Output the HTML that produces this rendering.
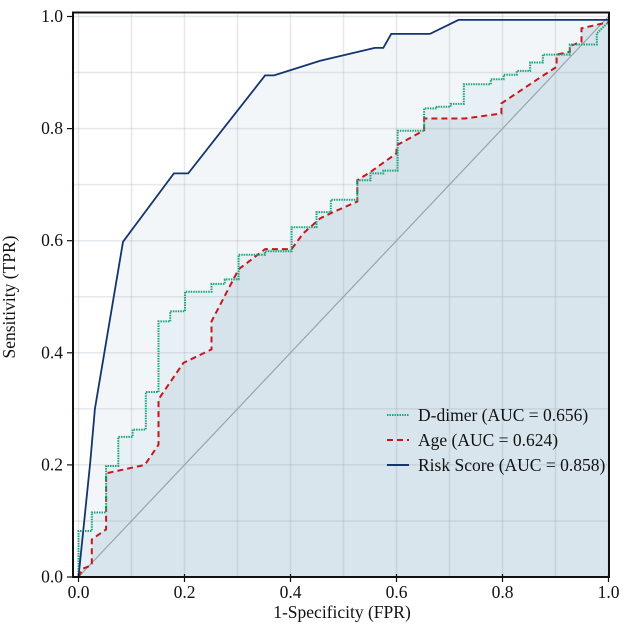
<!DOCTYPE html>
<html><head><meta charset="utf-8"><style>
body{margin:0;background:#fff}
svg text{font-family:"Liberation Serif",serif;fill:#111}
</style></head><body>
<svg id="c" width="624" height="623" xmlns="http://www.w3.org/2000/svg"></svg>
<script>
const riskX=[0,0.022,0.031,0.084,0.18,0.207,0.352,0.369,0.456,0.559,0.575,0.59,0.663,0.717,1];
const riskY=[0,0.204,0.30,0.598,0.72,0.72,0.895,0.895,0.921,0.944,0.944,0.969,0.969,0.994,0.994];
const dimX=[0,0,0.025,0.025,0.052,0.052,0.075,0.075,0.102,0.102,0.127,0.127,0.151,0.151,0.173,0.173,0.201,0.201,0.251,0.251,0.276,0.276,0.302,0.302,0.352,0.352,0.402,0.402,0.449,0.449,0.476,0.476,0.526,0.526,0.551,0.551,0.575,0.575,0.602,0.602,0.652,0.652,0.676,0.676,0.702,0.702,0.727,0.727,0.778,0.778,0.802,0.802,0.827,0.827,0.852,0.852,0.876,0.876,0.927,0.927,0.978,0.978,1];
const dimY=[0,0.082,0.082,0.115,0.115,0.198,0.198,0.25,0.25,0.263,0.263,0.33,0.33,0.456,0.456,0.474,0.474,0.509,0.509,0.523,0.523,0.531,0.531,0.575,0.575,0.581,0.581,0.624,0.624,0.651,0.651,0.673,0.673,0.708,0.708,0.72,0.72,0.725,0.725,0.796,0.796,0.836,0.836,0.839,0.839,0.844,0.844,0.879,0.879,0.888,0.888,0.896,0.896,0.903,0.903,0.918,0.918,0.932,0.932,0.950,0.950,0.97,0.99];
const ageX=[0,0.008,0.025,0.025,0.052,0.052,0.125,0.151,0.151,0.198,0.251,0.251,0.302,0.352,0.402,0.424,0.456,0.476,0.526,0.526,0.55,0.6,0.6,0.652,0.652,0.729,0.798,0.798,0.877,0.902,0.902,0.927,0.927,0.949,0.949,1];
const ageY=[0,0.015,0.021,0.067,0.085,0.185,0.2,0.236,0.317,0.382,0.406,0.456,0.549,0.585,0.585,0.613,0.64,0.649,0.67,0.708,0.722,0.756,0.77,0.797,0.818,0.818,0.827,0.845,0.895,0.910,0.932,0.937,0.947,0.955,0.979,0.99];
const ticks=[0,0.2,0.4,0.6,0.8,1.0];
const tickLabels=["0.0","0.2","0.4","0.6","0.8","1.0"];
const legendLabels=["D-dimer (AUC = 0.656)","Age (AUC = 0.624)","Risk Score (AUC = 0.858)"];
const X0=78.5,X1=608.5,Y0=577,Y1=16.5;
const sx=v=>X0+v*(X1-X0), sy=v=>Y0-v*(Y0-Y1);
const svg=document.getElementById('c');const NS='http://www.w3.org/2000/svg';
function mk(t,a,p){const e=document.createElementNS(NS,t);for(const k in a)e.setAttribute(k,a[k]);(p||svg).appendChild(e);return e;}
function pts(xs,ys){return xs.map((x,i)=>sx(x).toFixed(1)+','+sy(ys[i]).toFixed(1)).join(' ');}
function area(xs,ys){return pts(xs,ys)+' '+sx(1)+','+sy(0)+' '+sx(0)+','+sy(0);}
let e;
e=mk('rect',{x:73,y:12.5,width:536,height:564.5,fill:'#fff'});

e=mk('polygon',{points:area(riskX,riskY),fill:'#f3f6f9'});

e=mk('polygon',{points:area(dimX,dimY),fill:'#e7f1f5'});

e=mk('polygon',{points:area(ageX,ageY),fill:'#d6e3eb'});

e=mk('polygon',{points:sx(0)+','+sy(0)+' '+sx(1)+','+sy(1)+' '+sx(1)+','+sy(0),fill:'#d9e5ec'});

for(let i=0;i<=10;i++){const v=i/10;
 e=mk('line',{x1:sx(v),x2:sx(v),y1:12.5,y2:Y0,stroke:'rgba(140,155,170,0.22)','stroke-width':1.5});
 
 e=mk('line',{x1:73,x2:609,y1:sy(v),y2:sy(v),stroke:'rgba(140,155,170,0.22)','stroke-width':1.5});
 }
e=mk('line',{x1:sx(0),y1:sy(0),x2:sx(1),y2:sy(1),stroke:'#9aa3aa','stroke-width':1.2});

e=mk('polyline',{points:pts(ageX,ageY),fill:'none',stroke:'#c8161d','stroke-width':2,'stroke-dasharray':'6,4'});

e=mk('polyline',{points:pts(dimX,dimY),fill:'none',stroke:'#1aa37a','stroke-width':2,'stroke-dasharray':'1.5,1'});

e=mk('polyline',{points:pts(riskX,riskY),fill:'none',stroke:'#14346e','stroke-width':1.8});

e=mk('rect',{x:73,y:12.5,width:536,height:564.5,fill:'none',stroke:'#111','stroke-width':2});

ticks.forEach((v,i)=>{
 e=mk('line',{x1:sx(v),x2:sx(v),y1:Y0-3,y2:Y0+5,stroke:'#111','stroke-width':1.2});
 
 e=mk('text',{x:sx(v),y:598,'font-size':17.5,'text-anchor':'middle'});e.textContent=tickLabels[i];
 
 e=mk('line',{x1:67,x2:73,y1:sy(v),y2:sy(v),stroke:'#111','stroke-width':1.2});
 
 e=mk('text',{x:63,y:sy(v)+5.5,'font-size':17.5,'text-anchor':'end'});e.textContent=tickLabels[i];
 
});
e=mk('text',{x:342,y:618,'font-size':17.5,'text-anchor':'middle'});e.textContent='1-Specificity (FPR)';

e=mk('text',{x:0,y:0,'font-size':17.5,'text-anchor':'middle',transform:'translate(15,297) rotate(-90)'});e.textContent='Sensitivity (TPR)';

const styles=[{s:'#1aa37a',d:'1.5,1'},{s:'#c8161d',d:'6,4'},{s:'#14346e',d:''}];
legendLabels.forEach((l,i)=>{const y=415+i*25;
 const g=mk('g',{});
 mk('line',{x1:387,x2:409,y1:y,y2:y,stroke:styles[i].s,'stroke-width':2,'stroke-dasharray':styles[i].d},g);
 const t=mk('text',{x:418,y:y+6,'font-size':17.5},g);t.textContent=l;});
</script>
</body></html>
